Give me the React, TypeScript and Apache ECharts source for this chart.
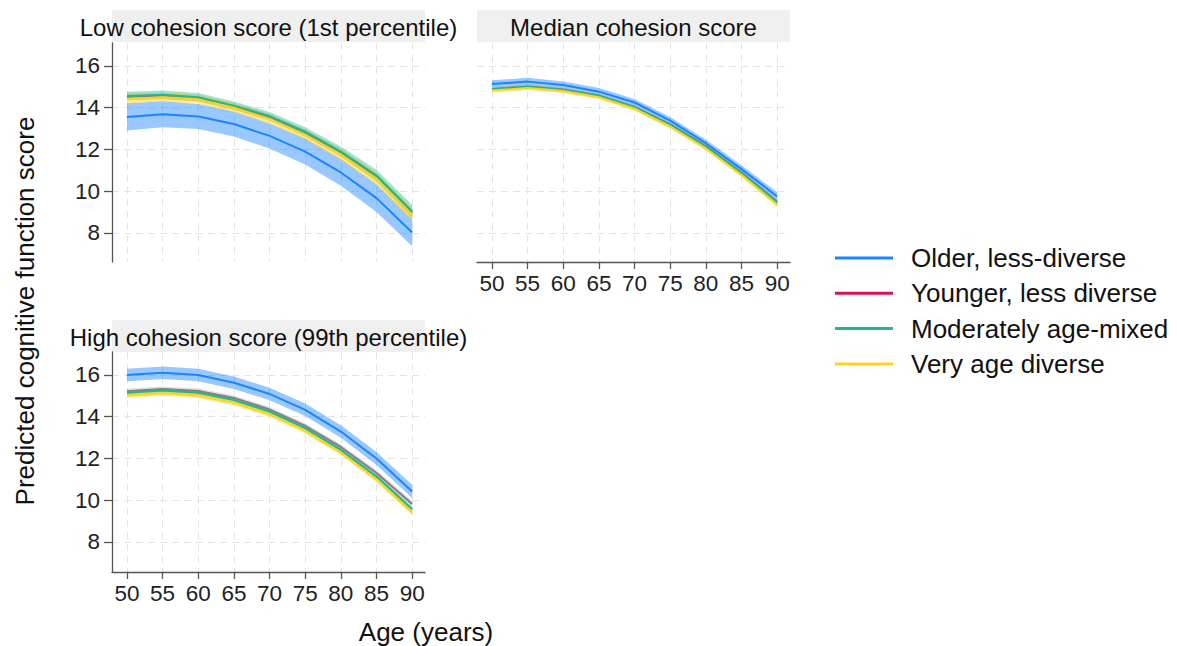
import React, { useEffect, useRef } from "react";
import * as echarts from "echarts";

const AGES = [50, 55, 60, 65, 70, 75, 80, 85, 90];
const Y_TICKS = [8, 10, 12, 14, 16];
const GROUPS = ["Older, less-diverse", "Younger, less diverse", "Moderately age-mixed", "Very age diverse"];
const PANEL_TITLES = ["Low cohesion score (1st percentile)", "Median cohesion score", "High cohesion score (99th percentile)"];

// Low cohesion (1st percentile)
const LOW_OLDER = [13.56, 13.69, 13.58, 13.22, 12.65, 11.9, 10.9, 9.67, 8.02];
const LOW_OLDER_CI = [0.65, 0.62, 0.6, 0.6, 0.6, 0.62, 0.64, 0.66, 0.66];
const LOW_YOUNGER = [14.52, 14.58, 14.47, 14.07, 13.56, 12.81, 11.86, 10.7, 8.96];
const LOW_YOUNGER_CI = [0.15, 0.15, 0.15, 0.15, 0.15, 0.16, 0.17, 0.18, 0.2];
const LOW_MIXED = [14.56, 14.62, 14.5, 14.1, 13.6, 12.85, 11.9, 10.75, 9.03];
const LOW_MIXED_CI = [0.2, 0.2, 0.2, 0.2, 0.2, 0.22, 0.24, 0.28, 0.32];
const LOW_DIVERSE = [14.42, 14.5, 14.4, 14.0, 13.45, 12.7, 11.75, 10.6, 8.87];
const LOW_DIVERSE_CI = [0.2, 0.2, 0.2, 0.2, 0.21, 0.22, 0.24, 0.28, 0.32];

// Median cohesion
const MED_OLDER = [15.14, 15.25, 15.09, 14.77, 14.25, 13.38, 12.3, 11.06, 9.75];
const MED_OLDER_CI = [0.18, 0.18, 0.17, 0.17, 0.17, 0.17, 0.17, 0.18, 0.2];
const MED_YOUNGER = [14.9, 15.02, 14.87, 14.58, 14.04, 13.2, 12.16, 10.9, 9.5];
const MED_YOUNGER_CI = [0.07, 0.07, 0.07, 0.07, 0.07, 0.07, 0.07, 0.08, 0.09];
const MED_MIXED = [14.88, 15.0, 14.85, 14.56, 14.02, 13.18, 12.14, 10.87, 9.46];
const MED_MIXED_CI = [0.08, 0.08, 0.08, 0.08, 0.08, 0.08, 0.08, 0.09, 0.1];
const MED_DIVERSE = [14.82, 14.94, 14.8, 14.5, 13.95, 13.1, 12.05, 10.78, 9.36];
const MED_DIVERSE_CI = [0.09, 0.09, 0.09, 0.09, 0.09, 0.09, 0.1, 0.1, 0.11];

// High cohesion (99th percentile)
const HIGH_OLDER = [16.0, 16.11, 16.0, 15.63, 15.09, 14.33, 13.29, 12.0, 10.42];
const HIGH_OLDER_CI = [0.3, 0.3, 0.3, 0.3, 0.3, 0.3, 0.3, 0.31, 0.32];
const HIGH_YOUNGER = [15.22, 15.33, 15.23, 14.9, 14.35, 13.56, 12.55, 11.3, 9.82];
const HIGH_YOUNGER_CI = [0.12, 0.12, 0.12, 0.12, 0.12, 0.12, 0.12, 0.13, 0.14];
const HIGH_MIXED = [15.15, 15.25, 15.15, 14.8, 14.25, 13.45, 12.41, 11.13, 9.57];
const HIGH_MIXED_CI = [0.1, 0.1, 0.1, 0.1, 0.1, 0.1, 0.1, 0.11, 0.12];
const HIGH_DIVERSE = [15.02, 15.12, 15.02, 14.67, 14.12, 13.32, 12.28, 11.0, 9.42];
const HIGH_DIVERSE_CI = [0.12, 0.12, 0.12, 0.12, 0.12, 0.12, 0.12, 0.13, 0.14];

const COLORS = ["#1a85ff", "#d41159", "#1fb98a", "#ffd21f"];
const BAND_COLORS = [
  "rgba(26,133,255,0.45)",
  "rgba(150,140,150,0.3)",
  "rgba(31,185,138,0.4)",
  "rgba(255,210,31,0.5)",
];
const FONT = "'Liberation Sans', Arial, sans-serif";

const PANELS = [
  { means: [LOW_OLDER, LOW_YOUNGER, LOW_MIXED, LOW_DIVERSE], cis: [LOW_OLDER_CI, LOW_YOUNGER_CI, LOW_MIXED_CI, LOW_DIVERSE_CI] },
  { means: [MED_OLDER, MED_YOUNGER, MED_MIXED, MED_DIVERSE], cis: [MED_OLDER_CI, MED_YOUNGER_CI, MED_MIXED_CI, MED_DIVERSE_CI] },
  { means: [HIGH_OLDER, HIGH_YOUNGER, HIGH_MIXED, HIGH_DIVERSE], cis: [HIGH_OLDER_CI, HIGH_YOUNGER_CI, HIGH_MIXED_CI, HIGH_DIVERSE_CI] },
];

const GRIDS = [
  { left: 112, top: 43, width: 313, height: 219 },
  { left: 477, top: 43, width: 313, height: 219 },
  { left: 112, top: 352, width: 313, height: 220 },
];
const Y_MIN = [6.61, 6.61, 6.56];
const Y_MAX = 17.1;
const X_MIN = 47.9;
const X_MAX = 91.8;

const SHOW_Y = [true, false, true];
const SHOW_X = [false, true, true];

export default function App() {
  const ref = useRef<HTMLDivElement>(null);
  useEffect(() => {
    document.body.style.margin = "0";
    if (!ref.current) return;
    const chart = echarts.init(ref.current, null, { renderer: "svg" });

    const splitLine = { show: true, lineStyle: { color: "#e4e4e4", width: 1, type: [7, 5] as any } };
    const axisLineStyle = { color: "#555", width: 1.3 };

    const xAxis = GRIDS.map((_, i) => ({
      type: "value",
      gridIndex: i,
      min: X_MIN,
      max: X_MAX,
      axisLine: { show: SHOW_X[i], onZero: false, lineStyle: axisLineStyle },
      axisTick: { show: SHOW_X[i], length: 7, lineStyle: axisLineStyle, customValues: AGES },
      axisLabel: { show: SHOW_X[i], customValues: AGES, fontSize: 22.5, color: "#222", fontFamily: FONT, margin: 10 },
      splitLine,
    }));
    const yAxis = GRIDS.map((_, i) => ({
      type: "value",
      gridIndex: i,
      min: Y_MIN[i],
      max: Y_MAX,
      axisLine: { show: SHOW_Y[i], lineStyle: axisLineStyle },
      axisTick: { show: SHOW_Y[i], length: 8, lineStyle: axisLineStyle, customValues: Y_TICKS },
      axisLabel: { show: SHOW_Y[i], customValues: Y_TICKS, fontSize: 22.5, color: "#222", fontFamily: FONT, margin: 12 },
      splitLine,
    }));

    const series: any[] = [];
    PANELS.forEach((p, i) => {
      // confidence bands (custom polygons through the axes' scales)
      [0, 1, 2, 3].forEach((g) => {
        const m = p.means[g];
        const c = p.cis[g];
        const data = AGES.map((a, k) => [a, m[k] - c[k], m[k] + c[k]]);
        series.push({
          type: "custom",
          xAxisIndex: i,
          yAxisIndex: i,
          silent: true,
          clip: true,
          data,
          encode: { x: 0, y: [1, 2] },
          z: 1,
          renderItem: (params: any, api: any) => {
            if (params.dataIndex !== 0) return null;
            const upper = data.map((d) => api.coord([d[0], d[2]]));
            const lower = data.map((d) => api.coord([d[0], d[1]])).reverse();
            return {
              type: "polygon",
              shape: { points: upper.concat(lower) },
              style: { fill: BAND_COLORS[g], stroke: "none" },
            };
          },
        });
      });
      // lines
      [1, 2, 3, 0].forEach((g) => {
        const m = p.means[g];
        series.push({
          name: GROUPS[g],
          type: "line",
          xAxisIndex: i,
          yAxisIndex: i,
          symbol: "none",
          color: COLORS[g],
          lineStyle: { color: g === 1 ? "#8a7d86" : COLORS[g], width: 2 },
          itemStyle: { color: COLORS[g] },
          data: AGES.map((a, k) => [a, m[k]]),
          z: 3,
        });
      });
    });

    const strips = [
      { x: 112, y: 10, w: 313, h: 32 },
      { x: 477, y: 10, w: 313, h: 32 },
      { x: 112, y: 320, w: 313, h: 32 },
    ];

    const graphic: any[] = [];
    strips.forEach((s, i) => {
      graphic.push({ type: "rect", shape: { x: s.x, y: s.y, width: s.w, height: s.h }, style: { fill: "#efefef" }, z: -1 });
      graphic.push({
        type: "text",
        x: s.x + s.w / 2,
        y: s.y + s.h / 2 + 1,
        style: { text: PANEL_TITLES[i], fontSize: 24, fontFamily: FONT, fill: "#111", textAlign: "center", textVerticalAlign: "middle" },
      });
    });
    graphic.push({
      type: "text",
      x: 25,
      y: 311,
      rotation: Math.PI / 2,
      style: { text: "Predicted cognitive function score", fontSize: 26, fontFamily: FONT, fill: "#111", textAlign: "center", textVerticalAlign: "middle" },
    });
    graphic.push({
      type: "text",
      x: 426,
      y: 632,
      style: { text: "Age (years)", fontSize: 26, fontFamily: FONT, fill: "#111", textAlign: "center", textVerticalAlign: "middle" },
    });

    chart.setOption({
      animation: false,
      backgroundColor: "#fff",
      grid: GRIDS.map((g) => ({ ...g, containLabel: false })),
      xAxis,
      yAxis,
      series,
      graphic,
      legend: {
        data: GROUPS,
        orient: "vertical",
        left: 830,
        top: 239,
        icon: "rect",
        itemWidth: 58,
        itemHeight: 3,
        itemGap: 7.3,
        selectedMode: false,
        textStyle: { fontSize: 26, fontFamily: FONT, color: "#111", lineHeight: 28, padding: [0, 0, 0, 13] },
      },
    });
    return () => chart.dispose();
  }, []);
  return <div ref={ref} style={{ width: 1177, height: 646 }} />;
}
